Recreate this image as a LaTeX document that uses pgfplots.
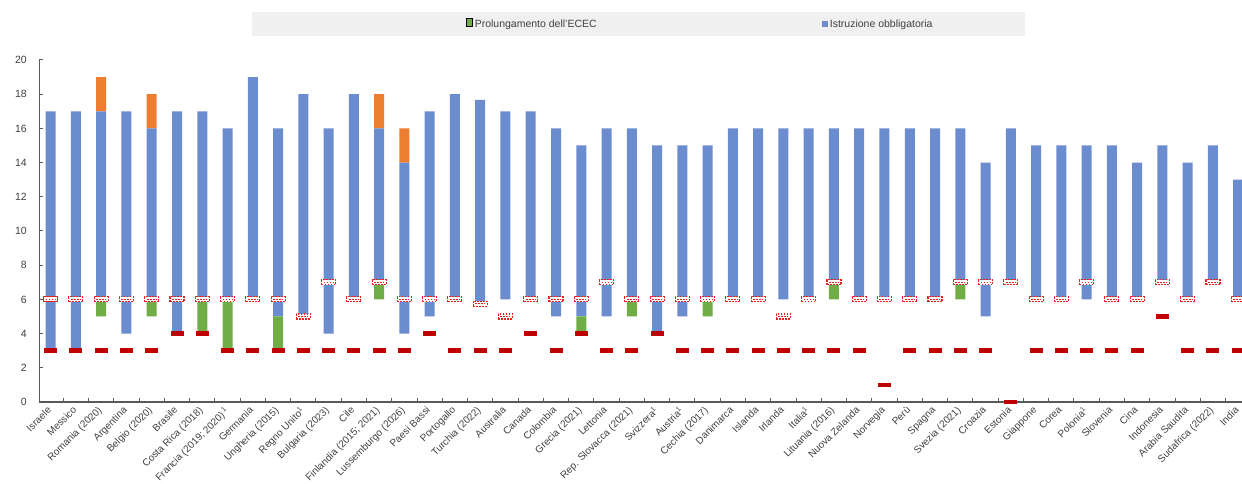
\documentclass[border=0pt]{standalone}
\usepackage{pgfplots}
\pgfplotsset{compat=1.18}
\usepackage{pgfplotstable}
\usepackage{fontspec}
\setmainfont{Liberation Sans}
\definecolor{cblue}{HTML}{6B8CCE}
\definecolor{cgreen}{HTML}{70AD47}
\definecolor{corange}{HTML}{ED7D31}
\definecolor{cred}{HTML}{C00000}
\definecolor{cwred}{HTML}{E82020}
\definecolor{ctext}{HTML}{404040}
\definecolor{caxis}{HTML}{595959}

\pgfdeclareplotmark{dashbar}{%
  \pgfsetfillcolor{cred}%
  \pgfpathrectangle{\pgfpoint{-6.5pt}{-2.2pt}}{\pgfpoint{13pt}{4.4pt}}\pgfusepathqfill}
\pgfdeclareplotmark{whitebar}{%
  \pgfsetfillcolor{white}\pgfsetstrokecolor{cwred}\pgfsetlinewidth{1.1pt}%
  \pgfpathrectangle{\pgfpoint{-7pt}{-2.5pt}}{\pgfpoint{14pt}{5pt}}\pgfusepathqfillstroke
  \pgfsetlinewidth{0.8pt}\pgfsetdash{{1.8pt}{1.2pt}}{0pt}%
  \pgfpathmoveto{\pgfpoint{-5pt}{0pt}}\pgfpathlineto{\pgfpoint{5pt}{0pt}}\pgfusepathqstroke}

\pgfplotstableread{
x base green blue orange white red
1 3 0 14 0 6 3
2 3 0 14 0 6 3
3 5 1 11 2 6 3
4 4 0 13 0 6 3
5 5 1 10 2 6 3
6 4 0 13 0 6 4
7 4 2 11 0 6 4
8 3 3 10 0 6 3
9 6 0 13 0 6 3
10 3 2 11 0 6 3
11 5 0 13 0 5 3
12 4 0 12 0 7 3
13 6 0 12 0 6 3
14 6 1 9 2 7 3
15 4 0 10 2 6 3
16 5 0 12 0 6 4
17 6 0 12 0 6 3
18 5.75 0 11.92 0 5.75 3
19 6 0 11 0 5 3
20 6 0 11 0 6 4
21 5 0 11 0 6 3
22 4 1 10 0 6 4
23 5 0 11 0 7 3
24 5 1 10 0 6 3
25 4 0 11 0 6 4
26 5 0 10 0 6 3
27 5 1 9 0 6 3
28 6 0 10 0 6 3
29 6 0 10 0 6 3
30 6 0 10 0 5 3
31 6 0 10 0 6 3
32 6 1 9 0 7 3
33 6 0 10 0 6 3
34 6 0 10 0 6 1
35 6 0 10 0 6 3
36 6 0 10 0 6 3
37 6 1 9 0 7 3
38 5 0 9 0 7 3
39 7 0 9 0 7 0
40 6 0 9 0 6 3
41 6 0 9 0 6 3
42 6 0 9 0 7 3
43 6 0 9 0 6 3
44 6 0 8 0 6 3
45 7 0 8 0 7 5
46 6 0 8 0 6 3
47 7 0 8 0 7 3
48 6 0 7 0 6 3
}\data

\pgfplotsset{
  common/.style={
    at={(0pt,0pt)}, anchor=south west,
    scale only axis, width=1202.7pt, height=342pt,
    xmin=0.55, xmax=48.15, ymin=0, ymax=20,
    clip=false,
    legend image code/.code={\fill[##1] (0pt,-2.8pt) rectangle (5.6pt,2.8pt);},
  },
}

\begin{document}
\begin{tikzpicture}
\path[use as bounding box] (-39.3pt,-82pt) rectangle (1202.7pt,402pt);
\begin{axis}[
  common,
  ybar stacked, bar width=10pt,
  axis lines*=left,
  axis line style={caxis, line width=1.3pt},
  tick align=inside,
  major tick length=4pt,
  tick style={caxis, line width=1pt},
  xtick={1.5,2.5,...,47.5},
  xticklabels={},
  extra x ticks={1,2,...,48},
  extra x tick style={major tick length=0pt},
  extra x tick labels={{Israele},{Messico},{Romania (2020)},{Argentina},{Belgio (2020)},{Brasile},{Costa Rica (2018)},{Francia (2019; 2020)\,\textsuperscript{1}},{Germania},{Ungheria (2015)},{Regno Unito\textsuperscript{1}},{Bulgaria (2023)},{Cile},{Finlandia (2015; 2021)},{Lussemburgo (2026)},{Paesi Bassi},{Portogallo},{Turchia (2022)},{Australia},{Canada},{Colombia},{Grecia (2021)},{Lettonia},{Rep. Slovacca (2021)},{Svizzera\textsuperscript{1}},{Austria\textsuperscript{1}},{Cechia (2017)},{Danimarca},{Islanda},{Irlanda},{Italia\textsuperscript{1}},{Lituania (2016)},{Nuova Zelanda},{Norvegia},{Perù},{Spagna},{Svezia (2021)},{Croazia},{Estonia},{Giappone},{Corea},{Polonia\textsuperscript{1}},{Slovenia},{Cina},{Indonesia},{Arabia Saudita},{Sudafrica (2022)},{India}},
  xticklabel style={xshift=-4pt, yshift=-2pt, rotate=45, anchor=north east, font=\fontsize{10}{12}\selectfont, text=ctext, inner sep=1pt},
  ytick={0,2,...,20},
  /pgf/number format/assume math mode=true,
  yticklabel style={font=\fontsize{10.5}{12}\selectfont, text=ctext, xshift=-9pt},
  legend style={at={(0.3549,1.105)}, anchor=west, draw=none, fill=none, inner sep=0pt,
    font=\fontsize{10.5}{12}\selectfont, text=ctext},
]
\fill[gray!12] (rel axis cs:0.177,1.0702) rectangle (rel axis cs:0.8196,1.1404);
\addlegendimage{fill=cgreen, draw=none}
\addlegendentry{Prolungamento dell'ECEC}
\addplot[fill=none, draw=none] table[x=x, y=base] {\data};
\addplot[fill=cgreen, draw=none] table[x=x, y=green] {\data};
\addplot[fill=cblue, draw=none] table[x=x, y=blue] {\data};
\addplot[fill=corange, draw=none] table[x=x, y=orange] {\data};
\end{axis}
\begin{axis}[
  common,
  hide axis,
  legend style={at={(0.6508,1.105)}, anchor=west, draw=none, fill=none, inner sep=0pt,
    font=\fontsize{10.5}{12}\selectfont, text=ctext},
]
\addlegendimage{fill=cblue, draw=none}
\addlegendentry{Istruzione obbligatoria}
\addplot[only marks, mark=dashbar, color=cred] table[x=x, y=red] {\data};
\addplot[only marks, mark=whitebar, color=cwred] table[x=x, y=white] {\data};
\end{axis}
\end{tikzpicture}
\end{document}
